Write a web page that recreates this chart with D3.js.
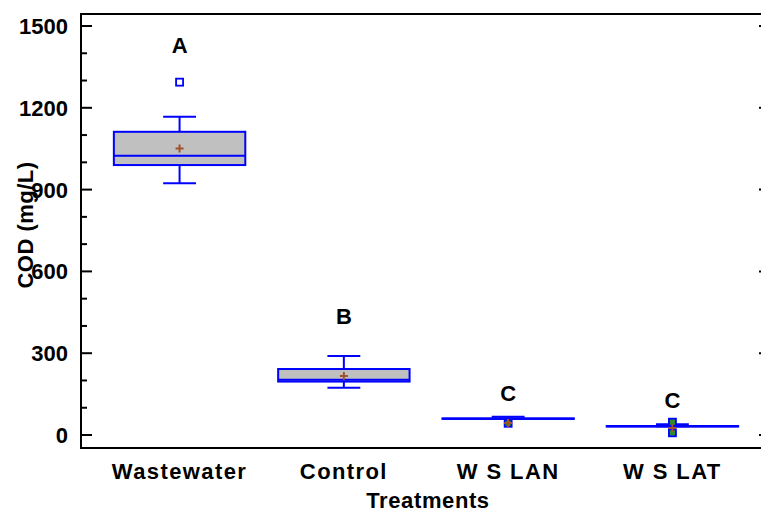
<!DOCTYPE html>
<html>
<head>
<meta charset="utf-8">
<script src="https://cdn.jsdelivr.net/npm/d3@7"></script>
<style>
  body { margin: 0; background: #fff; }
  text { font-family: "Liberation Sans", Arial, sans-serif; font-weight: bold; }
</style>
</head>
<body>
<div id="chart"></div>
<script>
// values (COD, mg/L)
const categories = ["Wastewater", "Control", "W S LAN", "W S LAT"];
const lowWhisker = [923, 173, 60, 32];
const q1 = [990, 196, 59, 31];
const median = [1024, 203, 60, 32];
const q3 = [1112, 242, 61, 33];
const highWhisker = [1167, 290, 67, 39];
const means = [1051, 216, 44, 26];
const outliers = [[1294], [], [43], [47, 8]];
const letters = ["A", "B", "C", "C"];
const letterAt = [1430, 435, 154, 128];
const yTicks = [0, 300, 600, 900, 1200, 1500];
const yMinor = d3.range(0, 1501, 100);

const width = 761, height = 512;
const plotL = 81, plotR = 771, plotT = 14, plotB = 448;

const svg = d3.select("#chart").append("svg")
  .attr("width", width)
  .attr("height", height);

const x = d3.scaleBand()
  .domain(categories)
  .range([plotL, plotR])
  .paddingInner(0.2)
  .paddingOuter(0.2);

const y = d3.scaleLinear()
  .domain([0, 1500])
  .range([435, 26]);

const capW = x.step() * 0.2;

// frame
svg.append("rect")
  .attr("x", plotL).attr("y", plotT)
  .attr("width", plotR - plotL).attr("height", plotB - plotT)
  .attr("fill", "none").attr("stroke", "#000").attr("stroke-width", 2);

// left ticks (inward)
svg.append("g").selectAll("line")
  .data(yMinor)
  .join("line")
  .attr("x1", plotL).attr("x2", d => plotL + (d % 300 === 0 ? 11 : 6))
  .attr("y1", d => y(d)).attr("y2", d => y(d))
  .attr("stroke", "#000").attr("stroke-width", 2);

// right ticks (inward)
svg.append("g").selectAll("line")
  .data(yTicks)
  .join("line")
  .attr("x1", plotR).attr("x2", plotR - 12)
  .attr("y1", d => y(d)).attr("y2", d => y(d))
  .attr("stroke", "#000").attr("stroke-width", 2);

svg.append("g").selectAll("text")
  .data(yTicks)
  .join("text")
  .attr("x", 68).attr("y", d => y(d))
  .attr("dy", "0.36em")
  .attr("text-anchor", "end")
  .style("font-size", "22px")
  .text(d => d);

// category labels
svg.append("g").selectAll("text")
  .data(categories)
  .join("text")
  .attr("x", d => x(d) + x.bandwidth() / 2)
  .attr("y", 479)
  .attr("text-anchor", "middle")
  .style("font-size", "22px")
  .style("letter-spacing", "1.4px")
  .text(d => d);

svg.append("text")
  .attr("x", 428).attr("y", 508)
  .attr("text-anchor", "middle")
  .style("font-size", "22px")
  .style("letter-spacing", "0.6px")
  .text("Treatments");

svg.append("text")
  .attr("transform", "translate(33,225) rotate(-90)")
  .attr("text-anchor", "middle")
  .style("font-size", "22px")
  .style("letter-spacing", "0.5px")
  .text("COD (mg/L)");

// boxes
const g = svg.append("g").selectAll("g")
  .data(categories)
  .join("g");

const cx = d => x(d) + x.bandwidth() / 2;
const blue = "#0000ff";

g.append("line")
  .attr("x1", cx).attr("x2", cx)
  .attr("y1", (d, i) => y(highWhisker[i])).attr("y2", (d, i) => y(q3[i]))
  .attr("stroke", blue).attr("stroke-width", 2);
g.append("line")
  .attr("x1", cx).attr("x2", cx)
  .attr("y1", (d, i) => y(lowWhisker[i])).attr("y2", (d, i) => y(q1[i]))
  .attr("stroke", blue).attr("stroke-width", 2);
g.append("line")
  .attr("x1", d => cx(d) - capW / 2).attr("x2", d => cx(d) + capW / 2)
  .attr("y1", (d, i) => y(highWhisker[i])).attr("y2", (d, i) => y(highWhisker[i]))
  .attr("stroke", blue).attr("stroke-width", 2);
g.append("line")
  .attr("x1", d => cx(d) - capW / 2).attr("x2", d => cx(d) + capW / 2)
  .attr("y1", (d, i) => y(lowWhisker[i])).attr("y2", (d, i) => y(lowWhisker[i]))
  .attr("stroke", blue).attr("stroke-width", 2);

g.append("rect")
  .attr("x", d => x(d))
  .attr("width", x.bandwidth())
  .attr("y", (d, i) => y(q3[i]))
  .attr("height", (d, i) => y(q1[i]) - y(q3[i]))
  .attr("fill", "#c0c0c0")
  .attr("stroke", blue).attr("stroke-width", 2);

g.append("line")
  .attr("x1", d => x(d)).attr("x2", d => x(d) + x.bandwidth())
  .attr("y1", (d, i) => y(median[i])).attr("y2", (d, i) => y(median[i]))
  .attr("stroke", blue).attr("stroke-width", 2);

// outliers
g.each(function (d, i) {
  d3.select(this).selectAll("rect.out")
    .data(outliers[i])
    .join("rect")
    .attr("class", "out")
    .attr("x", cx(d) - 3.5).attr("y", v => y(v) - 3.5)
    .attr("width", 7).attr("height", 7)
    .attr("fill", v => v < 100 ? "#2e8b2e" : "#fff")
    .attr("stroke", blue).attr("stroke-width", 1.8);
});

// means
g.append("path")
  .attr("d", (d, i) => {
    const px = cx(d), py = y(means[i]);
    return `M${px - 4},${py}H${px + 4}M${px},${py - 4}V${py + 4}`;
  })
  .attr("stroke", "#a0522d").attr("stroke-width", 2);

// group letters
g.append("text")
  .attr("x", cx)
  .attr("y", (d, i) => y(letterAt[i]))
  .attr("dy", "0.36em")
  .attr("text-anchor", "middle")
  .style("font-size", "22px")
  .text((d, i) => letters[i]);
</script>
</body>
</html>
